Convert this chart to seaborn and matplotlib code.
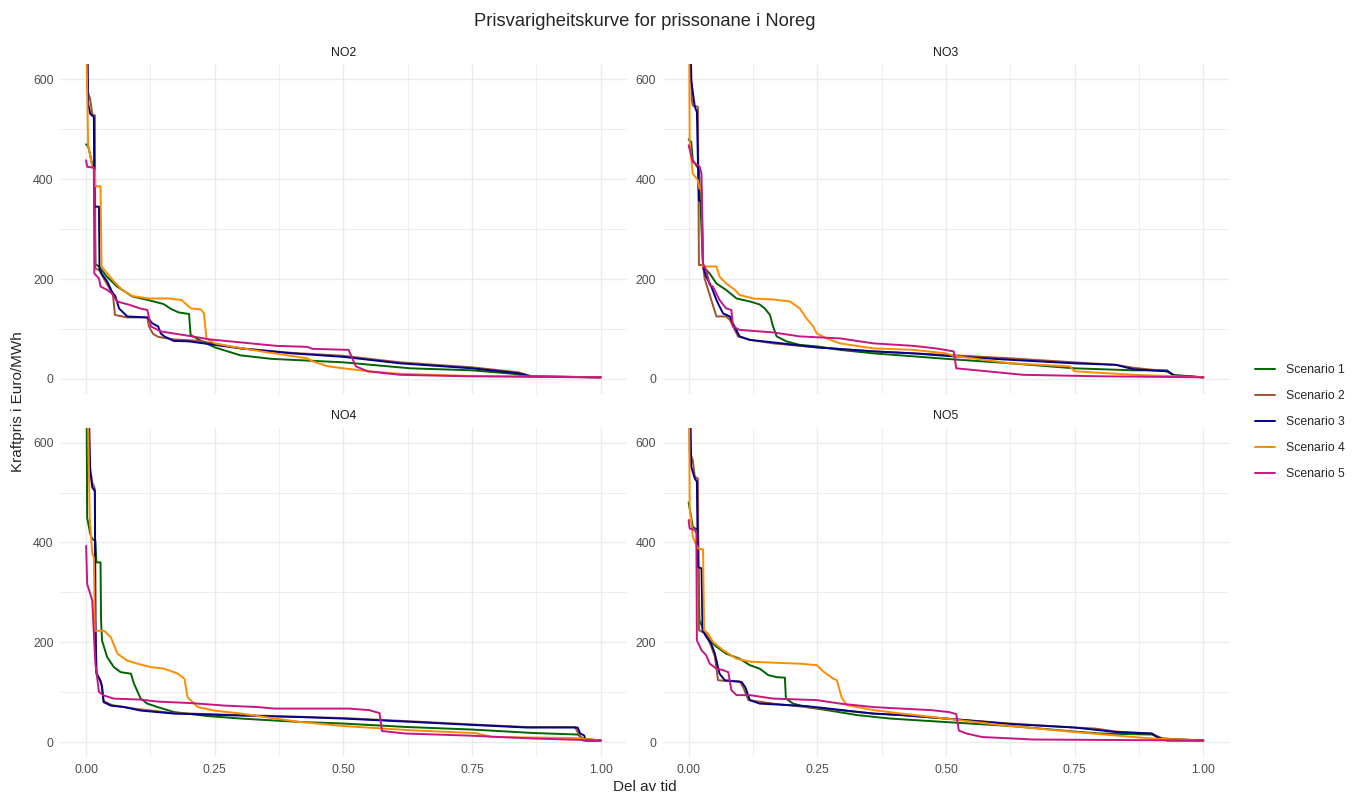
import numpy as np
import pandas as pd
import seaborn as sns
from matplotlib import pyplot as plt
from matplotlib.lines import Line2D
from matplotlib.ticker import FixedLocator

sns.set_theme(style="whitegrid")
plt.rcParams['font.family'] = ['Liberation Sans', 'DejaVu Sans']

zones = ['NO2', 'NO3', 'NO4', 'NO5']
scenarios = ['Scenario 1', 'Scenario 2', 'Scenario 3', 'Scenario 4', 'Scenario 5']
colors = ['#006400', '#A0522D', '#00008B', '#FF8C00', '#C71585']

# avlest frå figuren: del av tid (x) og pris (y), eitt par per kurve
# NO2
no2_s1_x = [0, 0.004, 0.012, 0.016, 0.018, 0.025, 0.04, 0.06, 0.09, 0.12, 0.15, 0.165, 0.18, 0.2, 0.203, 0.22, 0.25, 0.3, 0.36, 0.42, 0.5, 0.63, 0.75, 0.83, 0.86, 1.0]
no2_s1_y = [470, 466, 430, 425, 230, 225, 205, 185, 165, 158, 150, 140, 133, 130, 88, 78, 63, 47, 40, 37, 33, 21, 17, 10, 4, 3]
no2_s2_x = [0, 0.002, 0.008, 0.012, 0.017, 0.018, 0.025, 0.035, 0.047, 0.052, 0.056, 0.08, 0.119, 0.122, 0.13, 0.14, 0.17, 0.22, 0.3, 0.4, 0.5, 0.61, 0.75, 0.84, 0.865, 1.0]
no2_s2_y = [900, 580, 560, 530, 528, 221, 218, 200, 178, 170, 128, 123, 123, 105, 90, 84, 79, 76, 61, 52, 46, 33, 23, 13, 5, 3]
no2_s3_x = [0, 0.004, 0.008, 0.015, 0.016, 0.025, 0.026, 0.03, 0.041, 0.05, 0.057, 0.064, 0.08, 0.119, 0.129, 0.14, 0.145, 0.152, 0.17, 0.2, 0.25, 0.3, 0.4, 0.5, 0.61, 0.75, 0.84, 0.865, 1.0]
no2_s3_y = [900, 551, 531, 525, 345, 345, 221, 211, 195, 175, 165, 141, 125, 123, 111, 105, 91, 85, 76, 75, 68, 61, 51, 44, 31, 21, 11, 5, 3]
no2_s4_x = [0, 0.001, 0.004, 0.012, 0.017, 0.018, 0.028, 0.030, 0.038, 0.054, 0.07, 0.09, 0.12, 0.16, 0.185, 0.204, 0.223, 0.229, 0.232, 0.234, 0.25, 0.28, 0.34, 0.43, 0.44, 0.47, 0.5, 0.55, 0.61, 0.74, 1.0]
no2_s4_y = [900, 640, 468, 425, 418, 386, 386, 225, 215, 195, 178, 166, 161, 161, 158, 141, 139, 131, 100, 81, 71, 65, 55, 41, 35, 25, 21, 15, 10, 6, 3]
no2_s5_x = [0, 0.002, 0.015, 0.016, 0.025, 0.028, 0.041, 0.05, 0.06, 0.085, 0.105, 0.119, 0.126, 0.145, 0.2, 0.24, 0.3, 0.37, 0.43, 0.44, 0.51, 0.524, 0.547, 0.61, 0.74, 1.0]
no2_s5_y = [438, 425, 423, 211, 201, 185, 178, 171, 155, 148, 141, 138, 105, 95, 86, 79, 73, 66, 64, 60, 58, 25, 15, 8, 5, 3]
# NO3
no3_s1_x = [0, 0.005, 0.008, 0.02, 0.028, 0.041, 0.054, 0.073, 0.093, 0.119, 0.138, 0.148, 0.158, 0.164, 0.171, 0.19, 0.216, 0.249, 0.294, 0.359, 0.437, 0.5, 0.626, 0.75, 0.865, 0.93, 0.94, 1.0]
no3_s1_y = [480, 475, 438, 420, 225, 211, 191, 178, 161, 155, 149, 141, 128, 105, 85, 75, 68, 65, 58, 51, 45, 40, 31, 21, 17, 17, 8, 3]
no3_s2_x = [0, 0.006, 0.008, 0.018, 0.020, 0.028, 0.031, 0.054, 0.073, 0.08, 0.096, 0.119, 0.164, 0.249, 0.359, 0.437, 0.5, 0.626, 0.75, 0.83, 0.865, 0.93, 0.945, 1.0]
no3_s2_y = [900, 560, 548, 545, 228, 228, 201, 125, 125, 118, 85, 78, 71, 63, 55, 51, 48, 41, 33, 28, 22, 15, 6, 3]
no3_s3_x = [0, 0.005, 0.012, 0.016, 0.018, 0.02, 0.025, 0.028, 0.034, 0.044, 0.054, 0.06, 0.067, 0.08, 0.086, 0.099, 0.119, 0.164, 0.249, 0.359, 0.437, 0.5, 0.626, 0.75, 0.83, 0.865, 0.93, 0.945, 1.0]
no3_s3_y = [900, 598, 545, 535, 438, 358, 355, 225, 205, 185, 158, 145, 131, 125, 111, 85, 78, 73, 63, 55, 51, 46, 38, 31, 28, 19, 15, 6, 3]
no3_s4_x = [0, 0.002, 0.008, 0.018, 0.021, 0.025, 0.028, 0.054, 0.06, 0.073, 0.09, 0.099, 0.125, 0.164, 0.197, 0.216, 0.229, 0.242, 0.249, 0.268, 0.294, 0.359, 0.437, 0.5, 0.515, 0.626, 0.74, 0.75, 0.865, 1.0]
no3_s4_y = [900, 475, 411, 398, 381, 381, 225, 225, 205, 191, 178, 168, 161, 159, 155, 141, 121, 105, 91, 81, 71, 61, 58, 51, 46, 31, 25, 15, 8, 3]
no3_s5_x = [0, 0.008, 0.021, 0.025, 0.028, 0.034, 0.041, 0.047, 0.06, 0.073, 0.083, 0.086, 0.099, 0.164, 0.216, 0.294, 0.359, 0.437, 0.48, 0.515, 0.52, 0.58, 0.65, 0.8, 1.0]
no3_s5_y = [468, 435, 426, 411, 231, 218, 188, 185, 158, 141, 138, 105, 98, 93, 85, 81, 71, 66, 61, 55, 21, 15, 8, 5, 3]
# NO4
no4_s1_x = [0, 0.002, 0.008, 0.012, 0.018, 0.02, 0.028, 0.029, 0.031, 0.041, 0.054, 0.067, 0.087, 0.093, 0.106, 0.119, 0.139, 0.171, 0.236, 0.301, 0.367, 0.42, 0.5, 0.625, 0.75, 0.87, 0.955, 0.965, 1.0]
no4_s1_y = [900, 450, 417, 407, 403, 360, 360, 243, 203, 170, 150, 140, 137, 117, 87, 77, 70, 60, 52, 47, 43, 40, 37, 30, 25, 18, 15, 7, 3]
no4_s2_x = [0, 0.006, 0.012, 0.017, 0.018, 0.02, 0.03, 0.034, 0.05, 0.1, 0.17, 0.3, 0.5, 0.64, 0.755, 0.857, 0.95, 0.955, 0.965, 1.0]
no4_s2_y = [900, 560, 520, 508, 240, 140, 115, 82, 74, 66, 58, 54, 48, 41, 35, 30, 30, 20, 3, 3]
no4_s3_x = [0, 0.008, 0.012, 0.017, 0.018, 0.02, 0.028, 0.031, 0.034, 0.048, 0.074, 0.106, 0.171, 0.301, 0.417, 0.5, 0.64, 0.755, 0.857, 0.955, 0.96, 0.968, 0.97, 1.0]
no4_s3_y = [900, 543, 510, 503, 243, 137, 123, 110, 80, 73, 70, 63, 57, 53, 50, 47, 40, 34, 29, 29, 17, 13, 3, 3]
no4_s4_x = [0, 0.004, 0.007, 0.012, 0.015, 0.017, 0.035, 0.048, 0.061, 0.08, 0.1, 0.126, 0.152, 0.178, 0.191, 0.197, 0.217, 0.249, 0.301, 0.367, 0.417, 0.5, 0.64, 0.755, 0.79, 0.95, 1.0]
no4_s4_y = [900, 640, 450, 377, 370, 223, 223, 210, 177, 163, 157, 150, 147, 137, 127, 90, 70, 63, 57, 47, 40, 32, 23, 18, 10, 8, 3]
no4_s5_x = [0, 0.002, 0.008, 0.012, 0.015, 0.018, 0.025, 0.035, 0.054, 0.106, 0.139, 0.204, 0.269, 0.334, 0.367, 0.51, 0.55, 0.57, 0.575, 0.62, 0.74, 0.87, 1.0]
no4_s5_y = [393, 317, 297, 283, 217, 157, 100, 93, 87, 85, 81, 78, 73, 70, 67, 67, 64, 58, 22, 17, 13, 7, 3]
# NO5
no5_s1_x = [0, 0.002, 0.008, 0.018, 0.021, 0.028, 0.041, 0.054, 0.073, 0.099, 0.119, 0.138, 0.155, 0.171, 0.187, 0.189, 0.203, 0.229, 0.268, 0.327, 0.392, 0.5, 0.626, 0.75, 0.8, 0.9, 0.92, 1.0]
no5_s1_y = [480, 468, 431, 425, 244, 227, 204, 191, 177, 167, 154, 147, 134, 130, 129, 87, 77, 70, 64, 54, 47, 40, 32, 21, 17, 15, 7, 3]
no5_s2_x = [0, 0.002, 0.008, 0.012, 0.018, 0.02, 0.034, 0.044, 0.051, 0.057, 0.073, 0.099, 0.106, 0.116, 0.164, 0.229, 0.359, 0.413, 0.5, 0.626, 0.75, 0.79, 0.83, 0.9, 0.92, 1.0]
no5_s2_y = [900, 582, 565, 532, 528, 224, 217, 191, 171, 124, 122, 122, 110, 84, 77, 70, 57, 54, 47, 37, 29, 27, 21, 17, 7, 3]
no5_s3_x = [0, 0.005, 0.012, 0.016, 0.018, 0.025, 0.027, 0.034, 0.044, 0.051, 0.06, 0.07, 0.103, 0.11, 0.119, 0.138, 0.229, 0.359, 0.413, 0.5, 0.626, 0.75, 0.83, 0.9, 0.91, 0.93, 1.0]
no5_s3_y = [900, 552, 528, 522, 351, 348, 224, 211, 197, 177, 137, 124, 120, 110, 84, 77, 72, 57, 54, 47, 36, 29, 20, 17, 10, 3, 3]
no5_s4_x = [0, 0.002, 0.008, 0.018, 0.028, 0.03, 0.038, 0.047, 0.067, 0.093, 0.119, 0.164, 0.216, 0.249, 0.262, 0.281, 0.288, 0.297, 0.307, 0.359, 0.413, 0.5, 0.607, 0.75, 0.865, 0.9, 1.0]
no5_s4_y = [900, 471, 411, 388, 386, 224, 217, 201, 184, 167, 161, 159, 157, 154, 141, 127, 124, 90, 74, 64, 57, 47, 34, 20, 10, 7, 3]
no5_s5_x = [0, 0.002, 0.012, 0.015, 0.016, 0.025, 0.034, 0.041, 0.054, 0.067, 0.077, 0.083, 0.093, 0.119, 0.164, 0.249, 0.294, 0.359, 0.413, 0.47, 0.506, 0.52, 0.525, 0.54, 0.57, 0.67, 1.0]
no5_s5_y = [445, 428, 425, 418, 204, 184, 174, 157, 147, 144, 140, 104, 94, 94, 87, 84, 77, 70, 67, 64, 60, 56, 23, 17, 10, 5, 3]

curves = {
    'NO2': [(no2_s1_x, no2_s1_y), (no2_s2_x, no2_s2_y), (no2_s3_x, no2_s3_y), (no2_s4_x, no2_s4_y), (no2_s5_x, no2_s5_y)],
    'NO3': [(no3_s1_x, no3_s1_y), (no3_s2_x, no3_s2_y), (no3_s3_x, no3_s3_y), (no3_s4_x, no3_s4_y), (no3_s5_x, no3_s5_y)],
    'NO4': [(no4_s1_x, no4_s1_y), (no4_s2_x, no4_s2_y), (no4_s3_x, no4_s3_y), (no4_s4_x, no4_s4_y), (no4_s5_x, no4_s5_y)],
    'NO5': [(no5_s1_x, no5_s1_y), (no5_s2_x, no5_s2_y), (no5_s3_x, no5_s3_y), (no5_s4_x, no5_s4_y), (no5_s5_x, no5_s5_y)],
}

# langt format for seaborn
rows = []
for zone in zones:
    for scen, (xs, ys) in zip(scenarios, curves[zone]):
        for i, (a, b) in enumerate(zip(xs, ys)):
            rows.append((zone, scen, i, a, b))
df = pd.DataFrame(rows, columns=['sone', 'scenario', 'nr', 'tid', 'pris'])

palette = dict(zip(scenarios, colors))
fig, axes = plt.subplots(2, 2, figsize=(13.54, 7.98), dpi=100, sharex=True)
plt.subplots_adjust(left=0.0446, right=0.9077, top=0.9192, bottom=0.0514, wspace=0.0643, hspace=0.103)

for ax, zone in zip(axes.flat, zones):
    sub = df[df['sone'] == zone]
    sns.lineplot(data=sub, x='tid', y='pris', hue='scenario', hue_order=scenarios,
                 palette=palette, estimator=None, sort=False, lw=1.4, legend=False, ax=ax)
    ax.set_xlim(-0.05, 1.05)
    ax.set_ylim(-30, 630)
    ax.set_xlabel('')
    ax.set_ylabel('')
    ax.set_facecolor('white')
    for s in ax.spines.values():
        s.set_visible(False)
    ax.xaxis.set_major_locator(FixedLocator([0, 0.25, 0.5, 0.75, 1.0]))
    ax.xaxis.set_minor_locator(FixedLocator([0.125, 0.375, 0.625, 0.875]))
    ax.yaxis.set_major_locator(FixedLocator([0, 200, 400, 600]))
    ax.yaxis.set_minor_locator(FixedLocator([100, 300, 500]))
    ax.set_xticklabels(['0.00', '0.25', '0.50', '0.75', '1.00'])
    ax.set_yticklabels(['0', '200', '400', '600'])
    ax.grid(which='major', color='#EBEBEB', lw=1.0)
    ax.grid(which='minor', color='#EBEBEB', lw=0.6)
    ax.tick_params(which='both', length=0, labelsize=8.8, colors='#4D4D4D', pad=5)
    ax.set_title(zone, fontsize=8.8, color='#1A1A1A', pad=6)

fig.suptitle('Prisvarigheitskurve for prissonane i Noreg', x=0.476, y=0.9728, fontsize=13.2, va='center')
fig.text(0.476, 0.0135, 'Del av tid', ha='center', va='center', fontsize=11)
fig.text(0.0136, 0.497, 'Kraftpris i Euro/MWh', ha='center', va='center', rotation=90, fontsize=11)

handles = [Line2D([], [], color=c, lw=1.4) for c in colors]
fig.legend(handles, scenarios, loc='center left', bbox_to_anchor=(0.923, 0.4712), frameon=False,
           fontsize=8.8, handlelength=1.65, handletextpad=0.95, labelspacing=1.15, borderaxespad=0)

fig.savefig('out.png', dpi=100)
